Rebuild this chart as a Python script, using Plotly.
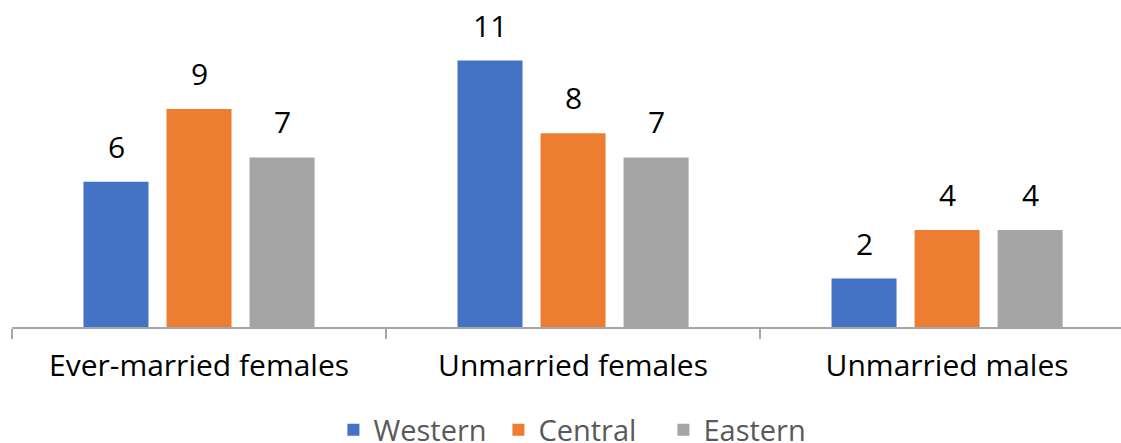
import plotly.graph_objects as go

categories = ["Ever-married females", "Unmarried females", "Unmarried males"]
series_names = ["Western", "Central", "Eastern"]
western = [6, 11, 2]
central = [9, 8, 4]
eastern = [7, 7, 4]
colors = ["#4472C4", "#ED7D31", "#A5A5A5"]

values = [western, central, eastern]
FONT = "Open Sans"

fig = go.Figure()
for name, vals, col in zip(series_names, values, colors):
    fig.add_trace(go.Bar(name=name, x=categories, y=vals, marker_color=col,
                         marker_line_width=0))

offsets = [-83, 0, 83]
for vals, off in zip(values, offsets):
    for cat, v in zip(categories, vals):
        fig.add_annotation(x=cat, y=v, xref="x", yref="y", text=str(v),
                           showarrow=False, xshift=off, yshift=13,
                           yanchor="bottom",
                           font=dict(size=30, color="#000000", family=FONT))

fig.update_layout(
    width=1121, height=443,
    margin=dict(l=12, r=0, t=0, b=116, autoexpand=False),
    paper_bgcolor="white", plot_bgcolor="white",
    barmode="group", bargap=0.334, bargroupgap=0.217,
    font=dict(family=FONT, size=30, color="#000000"),
    xaxis=dict(range=[-0.5, 2.465], showline=True, linecolor="#A6A6A6", linewidth=1.5,
               ticks="outside", tickson="boundaries", ticklen=10, tickcolor="#A6A6A6",
               tickwidth=1.5,
               tickfont=dict(size=30, color="#000000", family=FONT),
               ticklabelstandoff=11, showgrid=False, fixedrange=True, automargin=False),
    yaxis=dict(range=[0, 13.5], visible=False, showgrid=False, zeroline=False,
               fixedrange=True),
    legend=dict(orientation="h", x=0.513, xanchor="center", y=-0.315, yanchor="middle",
                font=dict(size=29, color="#595959", family=FONT),
                itemwidth=30, entrywidth=120, entrywidthmode="pixels",
                traceorder="normal"),
    showlegend=True,
)

fig.write_html("out.html", config={"displayModeBar": False},
               post_script="document.body.style.margin='0';")
